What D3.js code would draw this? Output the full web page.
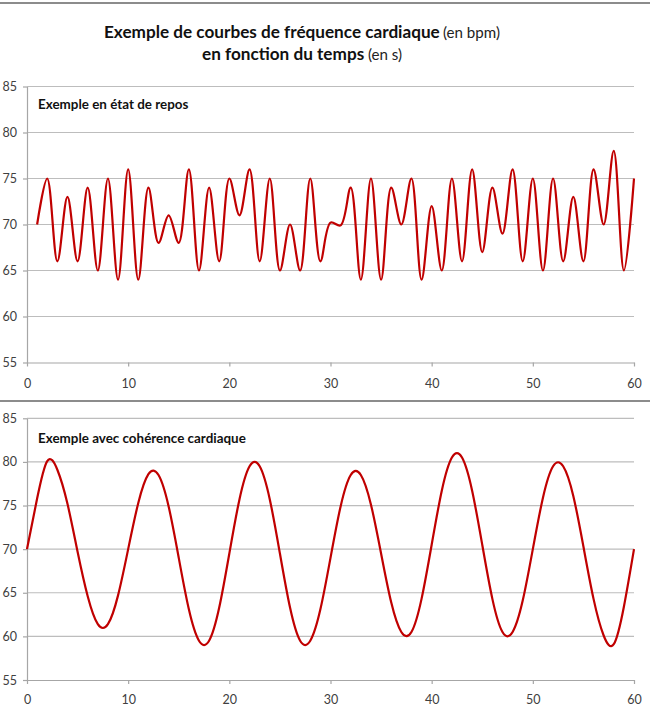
<!DOCTYPE html>
<html>
<head>
<meta charset="utf-8">
<script src="https://cdn.jsdelivr.net/npm/d3@7"></script>
<style>
  body { margin: 0; background: #fff; }
  svg { display: block; font-family: Lato, "Open Sans", sans-serif; }
</style>
</head>
<body>
<script>
// time (s) and heart rate (bpm)
var restTime = [1,2,3,4,5,6,7,8,9,10,11,12,13,14,15,16,17,18,19,20,
  21,22,23,24,25,26,27,28,29,30,31,32,33,34,35,36,37,38,39,40,
  41,42,43,44,45,46,47,48,49,50,51,52,53,54,55,56,57,58,59,60];
var restBpm = [70,75,66,73,66,74,65,75,64,76,
  64,74,68,71,68,76,65,74,66,75,
  71,76,66,75,65,70,65,75,66,70.2,
  69.9,74,64,75,64,74,70,75,64,72,
  65,75,66,76,67,74,69,76,66,75,
  65,75,66,73,66,76,70,78,65,75];

var cohTime = [0,1,2,3,4,5,6,7,8,9,10,11,12,13,14,15,16,17,18,19,20,
  21,22,23,24,25,26,27,28,29,30,31,32,33,34,35,36,37,38,39,40,
  41,42,43,44,45,46,47,48,49,50,51,52,53,54,55,56,57,58,59,60];
var cohBpm = [70,75.8,80.1,79.1,75.2,69.7,64.6,61.4,61.4,64.7,
  70,75.3,78.6,78.5,74.9,69,63.1,59.5,59.5,63.3,
  69.5,75.7,79.5,79.5,75.7,69.5,63.3,59.5,59.5,63.1,
  69,74.9,78.5,78.5,75.1,69.5,63.9,60.5,60.5,64.3,
  70.5,76.7,80.5,80.5,76.7,70.5,64.3,60.5,60.5,64.1,
  70,75.9,79.5,79.5,76.1,70.3,64.3,60.1,59.1,63.4,70];

var xTicks = [0,10,20,30,40,50,60];
var yTicks = [55,60,65,70,75,80,85];

var width = 650, height = 716;
var left = 27, right = 634;

var svg = d3.select('body').append('svg')
  .attr('width', width)
  .attr('height', height);

// separator rules
svg.append('rect').attr('x', 0).attr('y', 2).attr('width', width).attr('height', 2).attr('fill', '#8c8c8c');
svg.append('rect').attr('x', 0).attr('y', 400).attr('width', width).attr('height', 2).attr('fill', '#8c8c8c');

// scale a text's font size so it spans a given width
function fit(sel, w) {
  sel.attr('font-size', 100);
  var len = sel.node().getComputedTextLength();
  var fs = 100 * w / len;
  sel.attr('font-size', fs);
  return fs;
}

// title
var t1 = svg.append('text').attr('x', 104).attr('y', 37.5)
  .attr('font-weight', 'bold').attr('fill', '#111')
  .text('Exemple de courbes de fréquence cardiaque');
var titleSize = fit(t1, 336);
var t1b = svg.append('text').attr('x', 443).attr('y', 37.5).attr('fill', '#222')
  .text('(en bpm)');
var noteSize = fit(t1b, 57);
svg.append('text').attr('x', 202).attr('y', 60)
  .attr('font-weight', 'bold').attr('fill', '#111')
  .attr('font-size', titleSize)
  .text('en fonction du temps');
svg.append('text').attr('x', 368).attr('y', 60).attr('fill', '#222')
  .attr('font-size', noteSize)
  .text('(en s)');

var x = d3.scaleLinear().domain([0, 60]).range([left, right]);

var panels = [
  { top: 86.5, bottom: 362.5, pad: 12.5, label: 'Exemple en état de repos', labelY: 109,
    time: restTime, bpm: restBpm, curve: d3.curveCatmullRom.alpha(0.5) },
  { top: 418.3, bottom: 680, pad: 11.5, label: 'Exemple avec cohérence cardiaque', labelY: 443,
    time: cohTime, bpm: cohBpm, curve: d3.curveNatural }
];

// caption size taken from the longer caption
var probe = svg.append('text').attr('font-weight', 'bold').text(panels[1].label);
var subSize = fit(probe, 208);
probe.remove();

panels.forEach(function(p) {
  var y = d3.scaleLinear().domain([55, 85]).range([p.bottom, p.top]);
  var g = svg.append('g');

  // grid
  g.selectAll('line.grid')
    .data(yTicks.filter(function(v) { return v > 55; }))
    .enter().append('line')
    .attr('class', 'grid')
    .attr('x1', left).attr('x2', right)
    .attr('y1', function(d) { return y(d); })
    .attr('y2', function(d) { return y(d); })
    .attr('stroke', '#bdbdbd').attr('stroke-width', 1.2);

  var yAxis = g.append('g')
    .attr('transform', 'translate(' + left + ',0)')
    .call(d3.axisLeft(y).tickValues(yTicks).tickSize(4).tickSizeOuter(0).tickPadding(6));
  var xAxis = g.append('g')
    .attr('transform', 'translate(0,' + p.bottom + ')')
    .call(d3.axisBottom(x).tickValues(xTicks).tickSize(4).tickSizeOuter(0).tickPadding(p.pad));

  [yAxis, xAxis].forEach(function(a) {
    a.attr('font-family', null).attr('font-size', null);
    a.select('.domain').attr('stroke', '#a6a6a6').attr('stroke-width', 1.2);
    a.selectAll('.tick line').attr('stroke', '#a6a6a6').attr('stroke-width', 1.2);
    a.selectAll('.tick text').attr('fill', '#404040').attr('font-size', 12.5);
  });

  // series
  var line = d3.line()
    .x(function(d, i) { return x(p.time[i]); })
    .y(function(d) { return y(d); })
    .curve(p.curve);

  g.append('path')
    .datum(p.bpm)
    .attr('d', line)
    .attr('fill', 'none')
    .attr('stroke', '#c00000')
    .attr('stroke-width', 2.2)
    .attr('stroke-linejoin', 'round');

  g.append('text')
    .attr('x', 38).attr('y', p.labelY)
    .attr('font-weight', 'bold').attr('fill', '#111')
    .attr('font-size', subSize)
    .text(p.label);
});
</script>
</body>
</html>
